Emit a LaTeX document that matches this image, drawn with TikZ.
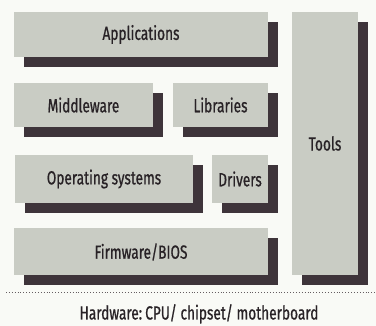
\documentclass[tikz,border=0pt]{standalone}
\usepackage{fontspec}
\setmainfont{Fira Sans}[FakeStretch=0.72, FakeBold=0.8]
\usepackage{tikz}
\usetikzlibrary{shadows}

\definecolor{layergray}{RGB}{201,204,196}
\definecolor{layershade}{RGB}{62,52,58}
\definecolor{pagecol}{RGB}{249,250,246}
\definecolor{labelcol}{RGB}{40,34,38}

\begin{document}
\begin{tikzpicture}[x=1pt,y=-1pt]
\tikzset{
  layer/.style={fill=layergray, draw=none, inner sep=0pt, text=labelcol, font=\fontsize{19}{21}\selectfont,
    copy shadow={shadow xshift=10pt, shadow yshift=-10pt, fill=layershade, draw=none}},
  hwtext/.style={font=\fontsize{19}{21}\selectfont, text=labelcol, inner sep=0pt}
}
%background
\fill[pagecol] (0,0) rectangle (376,326);
\useasboundingbox (0,0) rectangle (376,326);

%layers
\node[layer, minimum width=254pt, minimum height=45pt] (apps) at (141,34.5) {Applications};
\node[layer, minimum width=66pt, minimum height=263pt] (tools) at (325,143.5) {Tools};
\node[layer, minimum width=139pt, minimum height=44pt] (mid) at (83.5,105) {Middleware};
\node[layer, minimum width=95pt, minimum height=44pt] (libs) at (220.5,105) {Libraries};
\node[layer, minimum width=178pt, minimum height=48pt] (os) at (104,179) {Operating systems};
\node[layer, minimum width=56pt, minimum height=48pt] (drv) at (240,179) {Drivers};
\node[layer, minimum width=254pt, minimum height=47pt] (fw) at (141,252) {Firmware/BIOS};

%hardware line
\coordinate (hwl) at (6,292);
\coordinate (hwr) at (376,292);
\draw[layershade!80, line width=0.7pt, dash pattern=on 0.7pt off 2.2pt] (hwl) -- (hwr);
\node[hwtext, anchor=base] (hw) at (199,319.5) {Hardware:\,CPU/ chipset/ motherboard};
\end{tikzpicture}
\end{document}
